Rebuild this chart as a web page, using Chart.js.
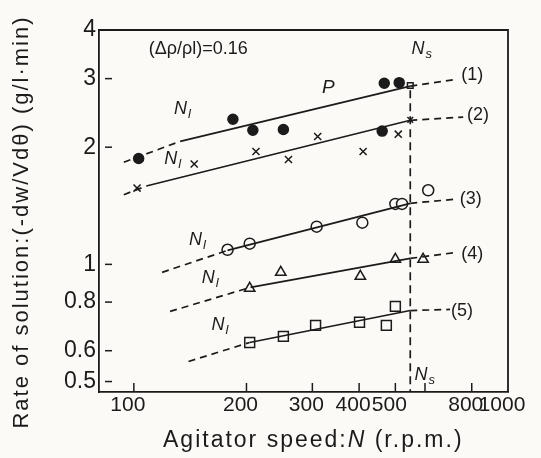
<!DOCTYPE html>
<html>
<head>
<meta charset="utf-8">
<script src="https://cdn.jsdelivr.net/npm/chart.js@4.4.0/dist/chart.umd.min.js"></script>
<style>
html,body{margin:0;padding:0;background:#fbfaf7;}
#myChartContainer{width:541px;height:458px;}
</style>
</head>
<body>
<div id="myChartContainer"><canvas id="myChart" width="541" height="458"></canvas></div>
<script>
// agitator speed N (r.p.m.) and rate of solution (g/l.min)
var speed1 = [103, 184, 208, 251, 461, 467, 512];
var rate1  = [1.87, 2.36, 2.21, 2.22, 2.20, 2.92, 2.93];
var speed2 = [102, 145, 212, 259, 310, 410, 509];
var rate2  = [1.57, 1.81, 1.95, 1.86, 2.13, 1.95, 2.16];
var speed3 = [178, 204, 308, 408, 500, 521, 612];
var rate3  = [1.09, 1.13, 1.25, 1.28, 1.43, 1.43, 1.55];
var speed4 = [204, 247, 403, 500, 593];
var rate4  = [0.868, 0.954, 0.932, 1.03, 1.03];
var speed5 = [204, 251, 306, 401, 473, 500];
var rate5  = [0.63, 0.653, 0.697, 0.71, 0.697, 0.78];

// critical speed Ns and the points drawn on it
var nsSpeed = 548;
var nsRate1 = 2.88;
var nsRate2 = 2.35;
var nsTop = 2.8;

// fitted lines: dashed start, solid start, Ns, dashed end
var lineSpeed1 = [94, 133, 548, 731];
var lineRate1  = [1.83, 2.07, 2.87, 2.99];
var lineSpeed2 = [94, 108, 548, 759];
var lineRate2  = [1.51, 1.59, 2.345, 2.39];
var lineSpeed3 = [119, 178, 548, 722];
var lineRate3  = [0.954, 1.086, 1.435, 1.47];
var lineSpeed4 = [125, 205, 548, 731];
var lineRate4  = [0.757, 0.873, 1.036, 1.074];
var lineSpeed5 = [140, 204, 548, 700];
var lineRate5  = [0.563, 0.63, 0.761, 0.766];

var xTicks = [100, 200, 300, 400, 500, 600, 800, 1000];
var xLabels = ['100', '200', '300', '400', '500', '', '800', '1000'];
var yTicks = [0.5, 0.6, 0.8, 1, 2, 3, 4];
var yLabels = ['0.5', '0.6', '0.8', '1', '2', '3', '4'];

var ink = '#1b1b1b';
var font = '"Liberation Sans", Arial, sans-serif';

function pts(xs, ys) {
    return xs.map(function(v, i){ return {x: v, y: ys[i]}; });
}

function marks(xs, ys, style, radius, fill) {
    return {
        type: 'scatter',
        data: pts(xs, ys),
        pointStyle: style,
        pointRadius: radius,
        backgroundColor: fill,
        borderColor: ink,
        borderWidth: 1.5,
        showLine: false
    };
}

function fitLine(xs, ys) {
    return {
        type: 'line',
        data: pts(xs, ys),
        borderColor: ink,
        borderWidth: 1.7,
        pointRadius: 0,
        fill: false,
        segment: {
            borderDash: function(c){ return c.p0DataIndex === 1 ? [] : [7, 5]; }
        }
    };
}

// text placed in data units so it follows the scales
var notes = [
    {t: '(1)', x: 802, y: 3.06}, {t: '(2)', x: 832, y: 2.415}, {t: '(3)', x: 795, y: 1.469},
    {t: '(4)', x: 802, y: 1.061}, {t: '(5)', x: 754, y: 0.761}
];
var nLabels = [
    {x: 135, y: 2.50, s: 'l'}, {x: 127, y: 1.862, s: 'l'}, {x: 148, y: 1.153, s: 'l'},
    {x: 160, y: 0.921, s: 'l'}, {x: 170, y: 0.697, s: 'l'},
    {x: 582, y: 3.57, s: 's'}, {x: 593, y: 0.521, s: 's'}
];

function subText(ctx, x, y, main, s, size) {
    ctx.font = 'italic ' + size + 'px ' + font;
    ctx.textAlign = 'left';
    ctx.textBaseline = 'middle';
    var w = ctx.measureText(main).width;
    ctx.fillText(main, x - w / 2 - 2, y);
    ctx.font = 'italic ' + Math.round(size * 0.7) + 'px ' + font;
    ctx.fillText(s, x + w / 2 - 1, y + size * 0.3);
}

var paper = {
    id: 'paper',
    beforeDraw: function(chart){
        var ctx = chart.ctx;
        ctx.save();
        ctx.fillStyle = '#fbfaf7';
        ctx.fillRect(0, 0, chart.width, chart.height);
        ctx.restore();
    },
    afterDraw: function(chart){
        var ctx = chart.ctx, a = chart.chartArea;
        var sx = chart.scales.x, sy = chart.scales.y;
        ctx.save();
        ctx.strokeStyle = ink;
        ctx.fillStyle = ink;
        ctx.lineWidth = 1.8;
        // top and right of the frame
        ctx.beginPath();
        ctx.moveTo(a.left, a.top); ctx.lineTo(a.right, a.top); ctx.lineTo(a.right, a.bottom);
        ctx.stroke();
        // inward tick marks
        ctx.lineWidth = 1.5;
        xTicks.forEach(function(v){
            if (v >= sx.max) return;
            var px = sx.getPixelForValue(v);
            ctx.beginPath(); ctx.moveTo(px, a.bottom); ctx.lineTo(px, a.bottom - 9); ctx.stroke();
        });
        yTicks.forEach(function(v){
            var py = sy.getPixelForValue(v);
            ctx.beginPath(); ctx.moveTo(a.left + 6, py); ctx.lineTo(a.left + 13, py); ctx.stroke();
        });
        // curve names
        ctx.font = '18px ' + font;
        ctx.textAlign = 'center';
        ctx.textBaseline = 'middle';
        notes.forEach(function(n){
            ctx.fillText(n.t, sx.getPixelForValue(n.x), sy.getPixelForValue(n.y));
        });
        nLabels.forEach(function(n){
            subText(ctx, sx.getPixelForValue(n.x), sy.getPixelForValue(n.y), 'N', n.s, 18);
        });
        ctx.font = 'italic 19px ' + font;
        ctx.textAlign = 'center';
        ctx.fillText('P', sx.getPixelForValue(331), sy.getPixelForValue(2.835));
        ctx.font = '18px ' + font;
        ctx.textAlign = 'left';
        ctx.fillText('(\u0394\u03c1/\u03c1l)=0.16', sx.getPixelForValue(109.6), sy.getPixelForValue(3.57));
        // axis titles
        ctx.letterSpacing = '2px';
        ctx.font = '23px ' + font;
        ctx.textBaseline = 'middle';
        var t1 = 'Agitator speed:', t2 = 'N', t3 = ' (r.p.m.)';
        var x0 = 163, y0 = 441;
        ctx.fillText(t1, x0, y0);
        x0 += ctx.measureText(t1).width;
        ctx.font = 'italic 23px ' + font;
        ctx.fillText(t2, x0, y0);
        x0 += ctx.measureText(t2).width;
        ctx.font = '23px ' + font;
        ctx.fillText(t3, x0, y0);
        ctx.translate(22, 222);
        ctx.rotate(-Math.PI / 2);
        ctx.textAlign = 'center';
        ctx.font = '22px ' + font;
        ctx.fillText('Rate of solution:(-dw/Vd\u03b8) (g/l\u00b7min)', 0, 0);
        ctx.letterSpacing = '0px';
        ctx.restore();
    }
};

document.addEventListener('DOMContentLoaded', function(){
    var data = {
        datasets: [
            fitLine(lineSpeed1, lineRate1),
            fitLine(lineSpeed2, lineRate2),
            fitLine(lineSpeed3, lineRate3),
            fitLine(lineSpeed4, lineRate4),
            fitLine(lineSpeed5, lineRate5),
            {
                type: 'line',
                data: [{x: nsSpeed, y: nsTop}, {x: nsSpeed, y: 0.47}],
                borderColor: ink, borderWidth: 1.7, borderDash: [8, 5], pointRadius: 0
            },
            marks(speed1, rate1, 'circle', 5, ink),
            marks([nsSpeed], [nsRate1], 'rect', 4, '#fbfaf7'),
            marks(speed2, rate2, 'crossRot', 5, ink),
            marks([nsSpeed], [nsRate2], 'crossRot', 4, ink),
            marks(speed3, rate3, 'circle', 5.5, '#fbfaf7'),
            marks(speed4, rate4, 'triangle', 6, '#fbfaf7'),
            marks(speed5, rate5, 'rect', 7, '#fbfaf7')
        ]
    };
    var options = {
        responsive: false,
        animation: false,
        layout: { padding: { top: 30, right: 33, left: 0, bottom: 0 } },
        plugins: { legend: { display: false }, tooltip: { enabled: false } },
        scales: {
            x: {
                type: 'logarithmic',
                min: 80.7,
                max: 1000,
                afterBuildTicks: function(s){ s.ticks = xTicks.map(function(v){ return {value: v}; }); },
                afterFit: function(s){ s.height = 66; },
                grid: { display: false, drawTicks: false },
                border: { display: true, color: ink, width: 1.8 },
                ticks: {
                    autoSkip: false, maxRotation: 0, padding: 1, labelOffset: -6,
                    color: ink, font: { family: font, size: 21 },
                    callback: function(v, i){ return xLabels[i]; }
                }
            },
            y: {
                type: 'logarithmic',
                min: 0.47,
                max: 4,
                afterBuildTicks: function(s){ s.ticks = yTicks.map(function(v){ return {value: v}; }); },
                afterFit: function(s){ s.width = 99; },
                grid: { display: false, drawTicks: false },
                border: { display: true, color: ink, width: 1.8 },
                ticks: {
                    autoSkip: false, padding: 3,
                    color: ink, font: { family: font, size: 23 },
                    callback: function(v, i){ return yLabels[i]; }
                }
            }
        }
    };

    var ctx = document.getElementById("myChart").getContext('2d');
    var myChart = new Chart(ctx, {
        type: 'scatter',
        data: data,
        options: options,
        plugins: [paper]
    });
});
</script>
</body>
</html>
